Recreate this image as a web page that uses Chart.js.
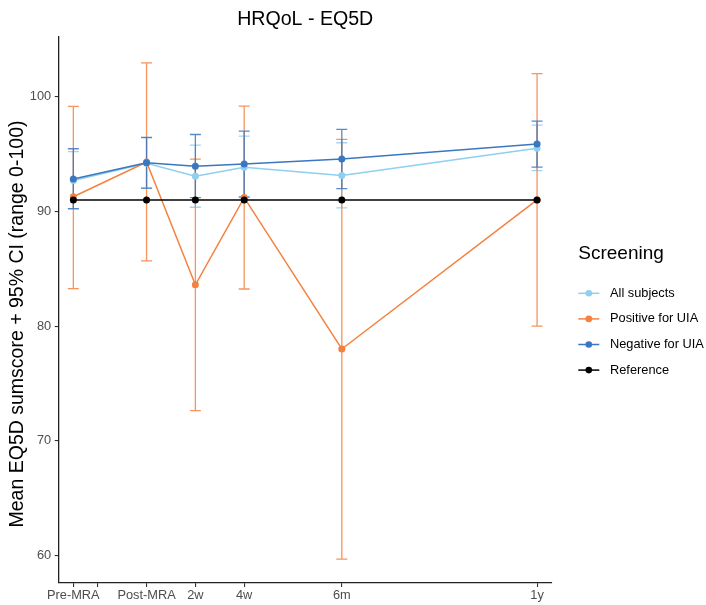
<!DOCTYPE html>
<html>
<head>
<meta charset="utf-8">
<title>HRQoL - EQ5D</title>
<script src="https://cdn.jsdelivr.net/npm/chart.js@4.4.1/dist/chart.umd.min.js"></script>
<style>
html,body{margin:0;padding:0;background:#fff;}
#wrap{width:706px;height:605px;position:relative;}
</style>
</head>
<body>
<div id="wrap"><canvas id="eq5dChart"></canvas></div>
<script>

// ================= DATA =================

const timepoints = ["Pre-MRA","Post-MRA","2w","4w","6m","1y"];
const timeX = [0,3,5,7,11,19];

const xTickValues = [0,1,3,5,7,11,19];
const xTickLabels = ["Pre-MRA","","Post-MRA","2w","4w","6m","1y"];
const yTickValues = [60,70,80,90,100];

// mean + 95% CI per group
const allMean = [92.7,94.2,93.07,93.85,93.13,95.5];
const allLow  = [90.2,92.0,90.36,91.2,90.3,93.56];
const allHigh = [95.2,96.4,95.77,96.56,95.98,97.52];

const posMean = [91.27,94.3,83.6,91.2,78.0,91.0];
const posLow  = [83.26,85.68,72.63,83.23,59.68,80.0];
const posHigh = [99.15,102.95,94.55,99.18,96.27,102.0];

const negMean = [92.82,94.24,93.94,94.12,94.57,95.87];
const negLow  = [90.24,92.02,91.2,91.27,91.99,93.85];
const negHigh = [95.46,96.45,96.7,97.0,97.14,97.87];

const refMean = [91,91,91,91,91,91];

const yTitle = "Mean EQ5D sumscore + 95% CI (range 0-100)";
const legendTitle = "Screening";

// ================= HELPERS =================

const FONT = "'Liberation Sans', Arial, Helvetica, sans-serif";
Chart.defaults.font.family = FONT;

function toPoints(values){
return timeX.map((x,i)=>({x:x,y:values[i]}));
}

function series(label,color,mean,low,high,order){
return {
label:label,
data:toPoints(mean),
low:low,
high:high,
borderColor:color,
backgroundColor:color,
pointBackgroundColor:color,
pointBorderWidth:0,
pointRadius:3.5,
pointHoverRadius:3.5,
borderWidth:1.5,
tension:0,
order:order
};
}

// ================= ERROR BARS =================

const errorBars = {
id:"errorBars",
beforeDatasetsDraw(chart){

const {ctx,scales:{x,y}} = chart;
const capHalf = 5.5;

ctx.save();
ctx.globalAlpha = 0.85;
ctx.lineWidth = 1.3;

chart.data.datasets.forEach(ds=>{

if(!ds.low) return;

ctx.strokeStyle = ds.borderColor;

ds.data.forEach((p,i)=>{

const px = x.getPixelForValue(p.x);
const top = y.getPixelForValue(ds.high[i]);
const bot = y.getPixelForValue(ds.low[i]);

ctx.beginPath();
ctx.moveTo(px,top); ctx.lineTo(px,bot);
ctx.moveTo(px-capHalf,top); ctx.lineTo(px+capHalf,top);
ctx.moveTo(px-capHalf,bot); ctx.lineTo(px+capHalf,bot);
ctx.stroke();

});

});

ctx.restore();

}
};

// ================= AXIS TITLE + LEGEND =================

const sideText = {
id:"sideText",
afterDraw(chart){

const ctx = chart.ctx;
const left = chart.chartArea.right + 26.6;

ctx.save();

// y axis title, rotated
ctx.translate(17.5,324);
ctx.rotate(-Math.PI/2);
ctx.textAlign = "center";
ctx.textBaseline = "middle";
ctx.fillStyle = "#000";
ctx.font = "19.5px " + FONT;
ctx.fillText(yTitle,0,0);

ctx.restore();
ctx.save();

ctx.textAlign = "left";
ctx.textBaseline = "middle";
ctx.fillStyle = "#000";
ctx.font = "19px " + FONT;
ctx.fillText(legendTitle,left,254);

chart.data.datasets.forEach((ds,i)=>{

const y = 293.3 + i*25.6;

ctx.strokeStyle = ds.borderColor;
ctx.lineWidth = ds.borderWidth;
ctx.beginPath();
ctx.moveTo(left,y); ctx.lineTo(left+21,y);
ctx.stroke();

ctx.fillStyle = ds.borderColor;
ctx.beginPath();
ctx.arc(left+10.5,y,3.3,0,Math.PI*2);
ctx.fill();

ctx.fillStyle = "#000";
ctx.font = "12.8px " + FONT;
ctx.fillText(ds.label,left+31.7,y);

});

ctx.restore();

}
};

// ================= CHART =================

const axisGrid = {display:true,drawOnChartArea:false,drawTicks:true,tickLength:4,color:"#333",lineWidth:1.1};
const axisBorder = {display:true,color:"#222",width:1.3};

new Chart(document.getElementById("eq5dChart"),{

type:"line",

data:{
datasets:[
series("All subjects","#8FCFEF",allMean,allLow,allHigh,4),
series("Positive for UIA","#F5813F",posMean,posLow,posHigh,3),
series("Negative for UIA","#3A77C0",negMean,negLow,negHigh,2),
series("Reference","#000000",refMean,null,null,1)
]
},

options:{

responsive:true,
maintainAspectRatio:false,
animation:false,

layout:{
padding:{left:0,right:154.3,top:0,bottom:0}
},

plugins:{
legend:{display:false},
tooltip:{enabled:false},
title:{
display:true,
fullSize:false,
text:"HRQoL - EQ5D",
color:"#000",
font:{size:19.6,weight:"normal"},
padding:{top:7.8,bottom:5.7}
}
},

scales:{

x:{
type:"linear",
min:-0.6,
max:19.6,
afterBuildTicks:s=>{ s.ticks = xTickValues.map(v=>({value:v})); },
afterFit:s=>{ s.height = 22; },
ticks:{
autoSkip:false,
maxRotation:0,
padding:1,
color:"#4d4d4d",
font:{size:12.8},
callback:v=>xTickLabels[xTickValues.indexOf(v)]
},
grid:axisGrid,
border:axisBorder
},

y:{
min:57.6,
max:105.2,
afterBuildTicks:s=>{ s.ticks = yTickValues.map(v=>({value:v})); },
afterFit:s=>{ s.width = 58.7; },
ticks:{
color:"#4d4d4d",
font:{size:12.8},
padding:3.5
},
grid:axisGrid,
border:axisBorder
}

}

},

plugins:[errorBars,sideText]

});

</script>
</body>
</html>
